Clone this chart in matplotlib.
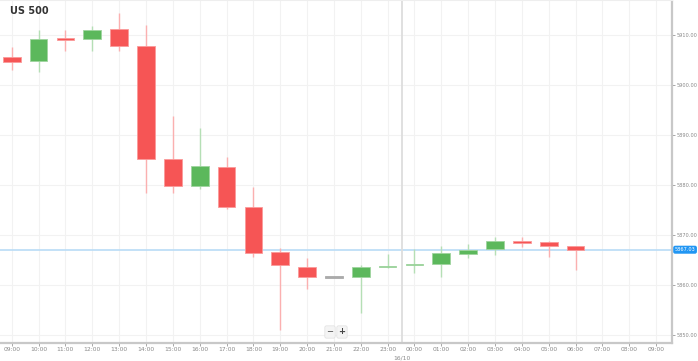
import matplotlib
matplotlib.use("Agg")
import matplotlib.pyplot as plt
import numpy as np

title = "US 500"
hours = ["09:00", "10:00", "11:00", "12:00", "13:00", "14:00", "15:00", "16:00",
         "17:00", "18:00", "19:00", "20:00", "21:00", "22:00", "23:00", "00:00",
         "01:00", "02:00", "03:00", "04:00", "05:00", "06:00", "07:00", "08:00", "09:00"]
opens = [5905.71, 5904.85, 5909.36, 5909.20, 5911.20, 5907.92, 5885.15, 5879.86,
         5883.67, 5875.65, 5866.63, 5863.63, 5861.42, 5861.50, 5863.50, 5863.97,
         5864.11, 5866.11, 5867.11, 5868.84, 5868.58, 5867.72]
closes = [5904.71, 5909.26, 5909.10, 5911.06, 5907.86, 5885.21, 5879.80, 5883.81,
          5875.65, 5866.43, 5863.91, 5861.50, 5861.42, 5863.51, 5863.70, 5864.23,
          5866.31, 5866.97, 5868.78, 5868.44, 5867.78, 5867.03]
highs = [5907.60, 5911.06, 5911.06, 5911.86, 5914.53, 5912.06, 5893.83, 5891.36,
         5885.55, 5879.54, 5867.43, 5865.31, 5861.42, 5863.97, 5866.17, 5867.11,
         5867.78, 5868.12, 5869.64, 5869.52, 5868.84, 5867.72]
lows = [5903.05, 5902.70, 5906.85, 5906.85, 5906.85, 5878.34, 5878.34, 5879.14,
        5875.19, 5865.51, 5850.94, 5859.10, 5861.42, 5854.29, 5863.30, 5862.30,
        5861.50, 5865.31, 5865.97, 5867.52, 5865.51, 5862.97]
last_price = 5867.03
y_ticks = [5850, 5860, 5870, 5880, 5890, 5900, 5910]
day_label = "16/10"
day_pos = 14.55

RED = "#f65555"
GREEN = "#5cb85c"
GRAY = "#aaaaaa"

fig = plt.figure(figsize=(6.98, 3.61), dpi=100)
ax = fig.add_axes([0.0, 0.0499, 672 / 698, 0.9501])

x = np.arange(len(opens))
o = np.array(opens); c = np.array(closes); h = np.array(highs); l = np.array(lows)
cols = [GREEN if cc > oo else (RED if cc < oo else GRAY) for oo, cc in zip(o, c)]
wick_cols = ["#b5dfb5" if col == GREEN else ("#fbb0b0" if col == RED else GRAY) for col in cols]

# grid
for i in range(len(hours)):
    ax.axvline(i, color="#f2f2f2", lw=0.8, zorder=0)
for yt in y_ticks:
    ax.axhline(yt, color="#f2f2f2", lw=0.8, zorder=0)

ax.vlines(x, l, h, colors=wick_cols, lw=1.0, zorder=2)
bottoms = np.minimum(o, c)
heights = np.maximum(np.abs(c - o), 0.25)
ax.bar(x, heights, bottom=bottoms, width=0.66, color=cols,
       edgecolor=[("#9fd59f" if col == GREEN else ("#fa9a9a" if col == RED else GRAY)) for col in cols],
       linewidth=0.6, zorder=3)

# last price line
ax.axhline(last_price, color="#b9dcf6", lw=1.2, zorder=1)

# day separator
ax.axvline(day_pos, color="#dddddd", lw=1.3, zorder=1)

ax.set_xlim(-0.436, 24.59)
ax.set_ylim(5848.34, 5917.07)
ax.set_xticks(range(len(hours)))
ax.set_xticklabels(hours)
ax.set_yticks(y_ticks)
ax.set_yticklabels([f"{v:.2f}" for v in y_ticks])
ax.yaxis.tick_right()
ax.tick_params(axis="x", labelsize=4.3, colors="#999999", length=2, width=0.6, pad=1.0)
ax.tick_params(axis="y", labelsize=3.6, colors="#999999", length=2, width=0.6, pad=1.5)
for t in ax.get_xticklabels() + ax.get_yticklabels():
    t.set_color("#888888")

ax.spines["left"].set_visible(False)
ax.spines["top"].set_color("#eeeeee")
ax.spines["right"].set_color("#c8c8c8")
ax.spines["right"].set_linewidth(1.6)
ax.spines["bottom"].set_color("#c8c8c8")
ax.spines["bottom"].set_linewidth(1.6)

# day label
ax.text(day_pos, -0.043, day_label, transform=ax.get_xaxis_transform(),
        ha="center", va="center", fontsize=4.3, color="#888888")

# price label
ax.text(1.004, last_price, f"{last_price:.2f}", transform=ax.get_yaxis_transform(),
        ha="left", va="center", fontsize=3.6, color="white",
        bbox=dict(boxstyle="round,pad=0.3,rounding_size=0.4", fc="#2196f3", ec="none"),
        clip_on=False, zorder=5)

# title
fig.text(10 / 698, 1 - 11 / 361, title, ha="left", va="center", fontsize=7,
         fontweight="bold", color="#333333")

# zoom buttons
fig.text(330 / 698, 1 - 332 / 361, "−", ha="center", va="center", fontsize=6,
         color="#444444", bbox=dict(boxstyle="round,pad=0.2", fc="#f4f4f4", ec="#e0e0e0", lw=0.5))
fig.text(342 / 698, 1 - 332 / 361, "+", ha="center", va="center", fontsize=6,
         color="#444444", fontweight="bold",
         bbox=dict(boxstyle="round,pad=0.2", fc="#f4f4f4", ec="#e0e0e0", lw=0.5))

fig.savefig("out.png", dpi=100, facecolor="white")
